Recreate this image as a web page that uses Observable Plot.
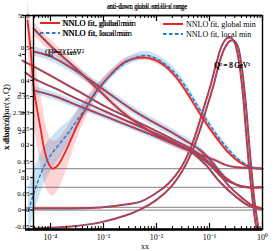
<!DOCTYPE html>
<html><head><meta charset="utf-8">
<script src="https://cdn.jsdelivr.net/npm/d3@7"></script>
<script src="https://cdn.jsdelivr.net/npm/@observablehq/plot@0.6"></script>
<style>body{margin:0;background:#fff}svg{display:block}</style>
</head><body><div id="chart"></div>
<script>
// ---- data: [x, x*dbar(x,Q)] ----
const humpGlobal = [[3.68e-5,0.585],[4.2e-5,0.498],[4.78e-5,0.384],[5.44e-5,0.322],[6.48e-5,0.252],[7.71e-5,0.184],[9.17e-5,0.144],[1.09e-4,0.128],[1.36e-4,0.137],[1.76e-4,0.168],[2.38e-4,0.214],[3.37e-4,0.270],[5.0e-4,0.322],[7.06e-4,0.363],[1e-3,0.393],[1.48e-3,0.424],[2.28e-3,0.452],[3.68e-3,0.467],[6.2e-3,0.470],[1e-2,0.461],[1.48e-2,0.443],[2.28e-2,0.412],[3.52e-2,0.369],[4.99e-2,0.329],[6.76e-2,0.295],[0.1,0.252],[0.148,0.214],[0.228,0.177],[0.352,0.150],[0.544,0.134],[0.771,0.128],[1,0.128]];
const humpGlobalErr = [0.06,0.08,0.1,0.11,0.11,0.1,0.09,0.085,0.08,0.07,0.055,0.04,0.028,0.02,0.015,0.012,0.01,0.009,0.009,0.009,0.009,0.009,0.009,0.009,0.009,0.009,0.008,0.007,0.006,0.005,0.004,0.004];
const humpLocal = [[3.85e-5,-0.001],[4.57e-5,0.039],[5.44e-5,0.076],[6.48e-5,0.110],[8.05e-5,0.144],[1.09e-4,0.177],[1.55e-4,0.208],[2.19e-4,0.239],[3.23e-4,0.279],[5e-4,0.322],[7.7e-4,0.369],[1.09e-3,0.400],[1.68e-3,0.430],[2.6e-3,0.455],[4.02e-3,0.470],[6.2e-3,0.477],[1e-2,0.467],[1.48e-2,0.449],[2.28e-2,0.421],[3.52e-2,0.381],[4.99e-2,0.341],[6.76e-2,0.307],[0.1,0.264],[0.148,0.224],[0.228,0.187],[0.352,0.156],[0.544,0.137],[0.771,0.128],[1,0.128]];
const humpLocalErr = [0.07,0.07,0.065,0.06,0.055,0.05,0.045,0.035,0.028,0.022,0.017,0.014,0.013,0.013,0.013,0.013,0.013,0.013,0.013,0.013,0.013,0.013,0.012,0.01,0.008,0.006,0.004,0.003,0.003];
const lineA = [[4.78e-5,0.560],[1e-4,0.507],[2.38e-4,0.452],[5.21e-4,0.400],[1.09e-3,0.350],[2.09e-3,0.307],[4.99e-3,0.261],[1.19e-2,0.224],[3.23e-2,0.190],[6.76e-2,0.171],[0.130,0.153],[0.219,0.137],[0.385,0.131],[1,0.128]];
const lineAErr = [0.02,0.018,0.015,0.012,0.01,0.01,0.01,0.01,0.01,0.008,0.006,0.004,0.003,0.002];
const lineB = [[4.78e-5,0.489],[1e-4,0.474],[2.38e-4,0.440],[5.69e-4,0.400],[1.36e-3,0.356],[3.23e-3,0.313],[7.71e-3,0.276],[1.84e-2,0.242],[3.52e-2,0.214],[6.76e-2,0.184],[0.114,0.147],[0.2,0.100],[0.385,0.073],[1,0.070]];
const lineBErr = [0.015,0.015,0.014,0.013,0.012,0.012,0.012,0.012,0.011,0.01,0.008,0.006,0.004,0.002];
const lineC = [[2.96e-5,0.461],[4.78e-5,0.443],[1.24e-4,0.406],[3.68e-4,0.363],[1.09e-3,0.319],[3.23e-3,0.282],[9.57e-3,0.245],[2.28e-2,0.214],[4.38e-2,0.190],[7.71e-2,0.162],[0.130,0.128],[0.228,0.076],[0.420,0.036],[0.648,0.014],[1,0.005]];
const lineD = [[3.37e-5,0.424],[4.78e-5,0.406],[1.24e-4,0.375],[3.68e-4,0.338],[1.09e-3,0.304],[3.23e-3,0.270],[9.57e-3,0.236],[2.84e-2,0.199],[5.44e-2,0.174],[0.1045,0.137],[0.176,0.100],[0.310,0.079],[0.544,0.070],[1,0.070]];
const lineE = [[4.78e-5,0.369],[1.24e-4,0.350],[3.68e-4,0.319],[1.09e-3,0.289],[3.23e-3,0.258],[9.57e-3,0.227],[2.28e-2,0.202],[4.38e-2,0.181],[8.41e-2,0.140],[0.161,0.085],[0.310,0.042],[0.544,0.014],[1,0.002]];
const lineEErr = [0.012,0.012,0.011,0.01,0.01,0.01,0.009,0.008,0.007,0.005,0.004,0.003,0.002];
const valence1 = [[4.78e-5,0.005],[2.38e-4,0.005],[8.77e-4,0.008],[2.6e-3,0.017],[4.99e-3,0.026],[9.57e-3,0.051],[1.68e-2,0.082],[2.84e-2,0.128],[4.38e-2,0.190],[5.94e-2,0.252],[7.71e-2,0.313],[0.1045,0.384],[0.136,0.455],[0.168,0.504],[0.209,0.529],[0.249,0.532],[0.296,0.517],[0.352,0.467],[0.420,0.369],[0.478,0.261],[0.544,0.153],[0.620,0.060],[0.706,-0.017],[0.771,-0.060]];
const valence2 = [[4.78e-5,-0.057],[2.38e-4,-0.051],[8.77e-4,-0.038],[2.6e-3,-0.017],[4.99e-3,0.002],[9.57e-3,0.029],[1.84e-2,0.070],[3.1e-2,0.122],[4.78e-2,0.184],[6.76e-2,0.252],[8.77e-2,0.313],[0.119,0.384],[0.154,0.455],[0.192,0.498],[0.238,0.520],[0.284,0.523],[0.338,0.507],[0.402,0.446],[0.478,0.338],[0.544,0.230],[0.620,0.122],[0.706,0.029],[0.805,-0.038],[0.841,-0.060]];
const baseLines = [0.128, 0.070, 0.008, 0.0];
const xTicks = [1e-4, 1e-3, 1e-2, 1e-1, 1];
const yTicks = [-0.05, 0, 0.05, 0.1, 0.15, 0.2, 0.25, 0.3, 0.35, 0.4, 0.5, 0.6];
const yTickLabels = ["-0.05","0","0.05","0.1","0.15","0.2","0.25","0.3","0.35","0.4","0.5","0.6"];
const y2Ticks = [0, 0.12, 0.24, 0.3, 0.36, 0.48, 0.6];
const y2TickLabels = ["0","1","2","2.5","3","4","5"];
const xLeftEdge = 3.37e-5;

const RED = "#ec2320", BLUE = "#1f80c8";
const PINK = "rgba(245,60,60,0.22)", LBLUE = "rgba(40,140,215,0.24)";
const serif = "Liberation Serif, Times New Roman, serif";

const toRows = (arr, err) => arr.map(([x, y], i) => ({x, y, lo: y - (err ? err[i] : 0), hi: y + (err ? err[i] : 0)}));
const sup = s => String(s).replace(/-/g,"⁻").replace(/\d/g, c => "⁰¹²³⁴⁵⁶⁷⁸⁹"[c]);
const fmtPow = d => "10" + sup(Math.round(Math.log10(d)));

const minorTicks = d3.scaleLog().domain([4.78e-5, 1]).ticks();

const hG = toRows(humpGlobal, humpGlobalErr), hL = toRows(humpLocal, humpLocalErr);
const a = toRows(lineA, lineAErr), b = toRows(lineB, lineBErr), c = toRows(lineC), dd = toRows(lineD), e = toRows(lineE, lineEErr);
const v1 = toRows(valence1), v2 = toRows(valence2);

const curve = "catmull-rom";
const pair = (rows) => [
  Plot.line(rows, {x: "x", y: "y", stroke: RED, strokeWidth: 2, curve}),
  Plot.line(rows, {x: "x", y: "y", stroke: BLUE, strokeWidth: 1.1, strokeDasharray: "2.4,3", curve})
];

const plot = Plot.plot({
  width: 273, height: 251,
  marginTop: 15, marginBottom: 22, marginLeft: 33, marginRight: 11,
  x: {type: "log", domain: [4.78e-5, 1]},
  y: {domain: [-0.06, 0.6]},
  style: {fontFamily: serif, fontSize: "8px", background: "white"},
  marks: [
    Plot.ruleY(baseLines, {x1: xLeftEdge, x2: 1, stroke: "#9a9a9a", strokeWidth: 1.3}),
    Plot.areaY(hG, {x: "x", y1: "lo", y2: "hi", fill: PINK, curve}),
    Plot.areaY(hL, {x: "x", y1: "lo", y2: "hi", fill: LBLUE, curve}),
    Plot.areaY(a, {x: "x", y1: "lo", y2: "hi", fill: PINK, curve}),
    Plot.areaY(b, {x: "x", y1: "lo", y2: "hi", fill: LBLUE, curve}),
    Plot.areaY(e, {x: "x", y1: "lo", y2: "hi", fill: LBLUE, curve}),
    ...pair(a), ...pair(b), ...pair(c), ...pair(dd), ...pair(e),
    ...pair(v1), ...pair(v2),
    Plot.line(hG, {x: "x", y: "y", stroke: RED, strokeWidth: 1.8, curve}),
    Plot.line(hL, {x: "x", y: "y", stroke: BLUE, strokeWidth: 1.5, strokeDasharray: "2.6,3.2", curve}),
    // ticks inside the frame
    Plot.ruleX(minorTicks, {x: d => d, insetTop: 211, stroke: "black"}),
    Plot.ruleX(minorTicks, {x: d => d, insetBottom: 211, stroke: "black"}),
    Plot.ruleX(xTicks, {x: d => d, insetTop: 208, stroke: "black", strokeWidth: 1.2}),
    Plot.ruleX(xTicks, {x: d => d, insetBottom: 208, stroke: "black", strokeWidth: 1.2}),
    Plot.axisX({ticks: xTicks, tickSize: 0, tickPadding: 5, tickFormat: fmtPow, fontSize: 8, label: null}),
    Plot.axisY({ticks: yTicks, tickSize: 3, tickPadding: 1, tickFormat: d => yTickLabels[yTicks.indexOf(d)], fontSize: 7, label: null}),
    Plot.axisY({ticks: y2Ticks, tickSize: 3, tickPadding: 1, dx: -8, tickFormat: d => y2TickLabels[y2Ticks.indexOf(d)], fontSize: 7, label: null}),
    Plot.ruleX([xLeftEdge], {stroke: "black", strokeWidth: 1.2}),
    Plot.ruleY([0.6], {x1: xLeftEdge, x2: 1, stroke: "black", strokeWidth: 1.6}),
    Plot.ruleY([-0.06], {x1: xLeftEdge, x2: 1, stroke: "black", strokeWidth: 2.6}),
    Plot.frame({stroke: "black", strokeWidth: 1.4})
  ]
});
document.getElementById("chart").appendChild(plot);

// ---- annotations ----
const g = d3.select(plot);
function txt(x, y, s, o = {}) {
  const t = g.append("text").attr("x", x).attr("y", y).attr("font-family", serif)
    .attr("font-size", o.size || 8).attr("fill", "black")
    .attr("text-anchor", o.anchor || "start").text(s);
  if (o.len) t.attr("textLength", o.len).attr("lengthAdjust", "spacingAndGlyphs");
  if (o.rot) t.attr("transform", `rotate(-90 ${x} ${y})`);
  return t;
}
function legLine(x1, x2, y, color, dash) {
  const l = g.append("line").attr("x1", x1).attr("x2", x2).attr("y1", y).attr("y2", y)
    .attr("stroke", color).attr("stroke-width", 2);
  if (dash) l.attr("stroke-dasharray", dash);
}
// title
txt(107, 9, "anti-down quark, small-x range", {size: 7.5, len: 80});
txt(107, 9, "anti-down, global and local range", {size: 7.5, len: 80});
// right legend
legLine(163, 183, 24, RED);
txt(186, 27, "NNLO fit, global min", {size: 8});
legLine(163, 183, 34, BLUE, "3.5,2.5");
txt(186, 37, "NNLO fit, local min", {size: 8});
// left legend (overlapping)
legLine(40, 60, 23, RED);
txt(62, 26, "NNLO fit, global min", {size: 7.5, len: 74});
txt(63, 26, "NNLO fit, global min", {size: 7.5, len: 70});
legLine(40, 60, 33, BLUE, "3.5,2.5");
txt(62, 36, "NNLO fit, local min", {size: 7.5, len: 70});
txt(63, 36, "NNLO fit, local min", {size: 7.5, len: 66});
// scale labels
txt(45, 55, "Q²=3 GeV²", {size: 8});
txt(48, 55, "Q²=3 GeV²", {size: 8});
txt(214, 68, "Q² = 8 GeV²", {size: 7.5, len: 36});
txt(215, 68, "Q² = 8 GeV²", {size: 7.5, len: 35});
// axis titles
txt(9, 150, "x dbar(x,Q)", {size: 8, rot: true});
txt(9, 150, "x dbar/ubar(x,Q)", {size: 8, rot: true, len: 66});
txt(141, 249, "x", {size: 8});
txt(145, 249, "x", {size: 8});
</script>
</body></html>
